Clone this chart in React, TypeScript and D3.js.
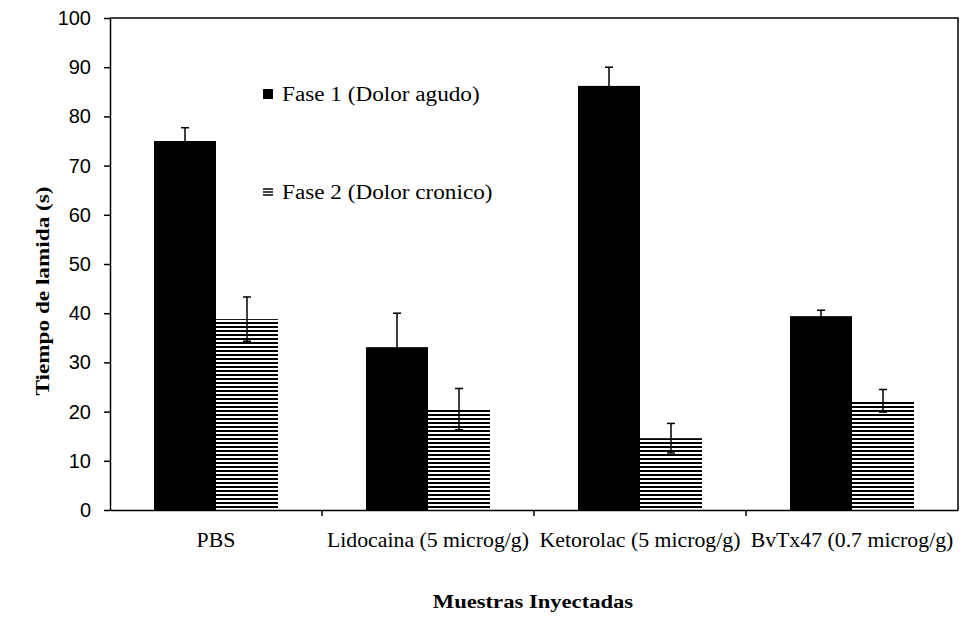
import { useEffect, useRef } from "react";
import * as d3 from "d3";

const categories = [
  "PBS",
  "Lidocaina (5 microg/g)",
  "Ketorolac (5 microg/g)",
  "BvTx47 (0.7 microg/g)",
];
const fase1 = [75, 33.1, 86.2, 39.4];
const fase1Err = [2.7, 6.9, 3.8, 1.2];
const fase2 = [38.8, 20.5, 14.6, 22.2];
const fase2Err = [4.5, 4.2, 3.0, 2.3];
const yTicks = [0, 10, 20, 30, 40, 50, 60, 70, 80, 90, 100];
const seriesNames = ["Fase 1 (Dolor agudo)", "Fase 2 (Dolor cronico)"];

const W = 961;
const H = 624;
const SERIF = "Liberation Serif, Times New Roman, serif";
const SANS = "Liberation Sans, Arial, sans-serif";

export default function App() {
  const svgRef = useRef<SVGSVGElement | null>(null);

  useEffect(() => {
    if (!svgRef.current) return;
    const margin = { top: 18, right: 3, bottom: 114, left: 110 };
    const innerWidth = W - margin.left - margin.right;
    const innerHeight = H - margin.top - margin.bottom;

    const svg = d3.select(svgRef.current);
    svg.selectAll("*").remove();

    // horizontal hatching for phase 2
    const defs = svg.append("defs");
    const pat = defs
      .append("pattern")
      .attr("id", "hatch")
      .attr("patternUnits", "userSpaceOnUse")
      .attr("width", 8)
      .attr("height", 4);
    pat.append("rect").attr("width", 8).attr("height", 4).attr("fill", "#fff");
    pat.append("rect").attr("width", 8).attr("height", 2).attr("fill", "#000");

    const g = svg
      .append("g")
      .attr("transform", `translate(${margin.left},${margin.top})`);

    const x = d3
      .scaleBand()
      .domain(categories)
      .range([0, innerWidth])
      .padding(0);
    const sub = d3
      .scaleBand()
      .domain(["f1", "f2"])
      .range([x.bandwidth() / 2 - 62, x.bandwidth() / 2 + 62]);
    const y = d3.scaleLinear().domain([0, 100]).range([innerHeight, 0]);

    // frame (top + right)
    g.append("path")
      .attr("d", `M0,0H${innerWidth}V${innerHeight}`)
      .attr("fill", "none")
      .attr("stroke", "#000")
      .attr("stroke-width", 1.5);

    const rows = categories.map((c, i) => ({
      c,
      v1: fase1[i],
      e1: fase1Err[i],
      v2: fase2[i],
      e2: fase2Err[i],
    }));

    // bars
    const grp = g
      .selectAll("g.cat")
      .data(rows)
      .enter()
      .append("g")
      .attr("transform", (d) => `translate(${x(d.c)},0)`);

    grp
      .append("rect")
      .attr("x", sub("f1")!)
      .attr("width", sub.bandwidth())
      .attr("y", (d) => y(d.v1))
      .attr("height", (d) => y(0) - y(d.v1))
      .attr("fill", "#000");
    grp
      .append("rect")
      .attr("x", sub("f2")!)
      .attr("width", sub.bandwidth())
      .attr("y", (d) => y(d.v2))
      .attr("height", (d) => y(0) - y(d.v2))
      .attr("fill", "url(#hatch)");

    // error bars
    const errBar = (key: "f1" | "f2", v: (d: any) => number, e: (d: any) => number) => {
      const cx = sub(key)! + sub.bandwidth() / 2;
      grp
        .append("line")
        .attr("x1", cx)
        .attr("x2", cx)
        .attr("y1", (d) => y(v(d) - e(d)))
        .attr("y2", (d) => y(v(d) + e(d)))
        .attr("stroke", "#000")
        .attr("stroke-width", 1.5);
      for (const s of [1, -1]) {
        grp
          .append("line")
          .attr("x1", cx - 4)
          .attr("x2", cx + 4)
          .attr("y1", (d) => y(v(d) + s * e(d)))
          .attr("y2", (d) => y(v(d) + s * e(d)))
          .attr("stroke", "#000")
          .attr("stroke-width", 1.5);
      }
    };
    errBar("f1", (d) => d.v1, (d) => d.e1);
    errBar("f2", (d) => d.v2, (d) => d.e2);

    // y axis
    const ya = g
      .append("g")
      .call(
        d3
          .axisLeft(y)
          .tickValues(yTicks)
          .tickSize(6)
          .tickPadding(13)
          .tickSizeOuter(0)
      );
    ya.selectAll("path, line").attr("stroke", "#000").attr("stroke-width", 1.5);
    ya.selectAll("text")
      .attr("font-family", SANS)
      .attr("font-size", 20)
      .attr("fill", "#000");

    // x axis
    const xa = g
      .append("g")
      .attr("transform", `translate(0,${innerHeight})`)
      .call(d3.axisBottom(x).tickSize(0).tickPadding(37).tickSizeOuter(0));
    xa.select("path").attr("stroke", "#000").attr("stroke-width", 1.5);
    xa.selectAll("text")
      .attr("font-family", SERIF)
      .attr("font-size", 20)
      .attr("dy", "0")
      .attr("transform", "scale(1.09,1)")
      .attr("fill", "#000");
    xa.selectAll("line.bound")
      .data(categories.slice(1))
      .enter()
      .append("line")
      .attr("class", "bound")
      .attr("x1", (d) => x(d)!)
      .attr("x2", (d) => x(d)!)
      .attr("y1", 0)
      .attr("y2", 6)
      .attr("stroke", "#000")
      .attr("stroke-width", 1.5);

    // axis titles
    svg
      .append("text")
      .attr("transform", "translate(49,291) rotate(-90) scale(1.29,1)")
      .attr("text-anchor", "middle")
      .attr("font-family", SERIF)
      .attr("font-weight", "bold")
      .attr("font-size", 18)
      .text("Tiempo de lamida (s)");
    svg
      .append("text")
      .attr("transform", "translate(533,608) scale(1.19,1)")
      .attr("text-anchor", "middle")
      .attr("font-family", SERIF)
      .attr("font-weight", "bold")
      .attr("font-size", 19)
      .text("Muestras Inyectadas");

    // legend
    const leg = svg.append("g").attr("transform", "translate(263,0)");
    const legY = [94, 192];
    leg
      .append("rect")
      .attr("x", 0)
      .attr("y", legY[0] - 5)
      .attr("width", 10)
      .attr("height", 10)
      .attr("fill", "#000");
    leg
      .selectAll("line.sym")
      .data([-3, 0, 3])
      .enter()
      .append("line")
      .attr("x1", 0)
      .attr("x2", 10)
      .attr("y1", (d) => legY[1] + d)
      .attr("y2", (d) => legY[1] + d)
      .attr("stroke", "#000")
      .attr("stroke-width", 1.5);
    leg
      .selectAll("text")
      .data(seriesNames)
      .enter()
      .append("text")
      .attr("transform", (_, i) => `translate(19,${legY[i] + 7}) scale(1.16,1)`)
      .attr("font-family", SERIF)
      .attr("font-size", 20)
      .text((d) => d);
  }, []);

  return (
    <svg
      ref={svgRef}
      width={W}
      height={H}
      style={{ position: "absolute", left: 0, top: 0, background: "#fff" }}
    />
  );
}
